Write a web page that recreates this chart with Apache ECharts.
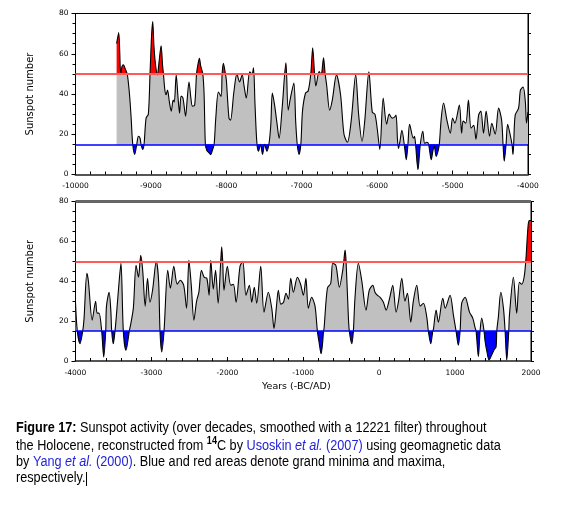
<!DOCTYPE html>
<html><head><meta charset="utf-8">
<script src="https://cdn.jsdelivr.net/npm/echarts@6/dist/echarts.min.js"></script>
<style>html,body{margin:0;padding:0;background:#fff}#c{width:586px;height:527px}</style>
</head><body><div id="c"></div>
<script>
// Top panel: -10000 .. -4000
const topYears = [-9455,-9427,-9400,-9385,-9365,-9340,-9315,-9300,-9280,-9262,-9241,-9215,-9188,-9166,-9144,-9131,-9109,-9091,-9064,-9034,-9010,-8990,-8976,-8960,-8940,-8914,-8895,-8865,-8845,-8834,-8815,-8799,-8780,-8755,-8730,-8705,-8690,-8665,-8640,-8620,-8600,-8575,-8540,-8520,-8495,-8470,-8450,-8420,-8395,-8375,-8357,-8340,-8312,-8295,-8278,-8260,-8235,-8206,-8185,-8162,-8140,-8105,-8069,-8056,-8039,-8012,-8000,-7965,-7945,-7900,-7860,-7825,-7790,-7765,-7735,-7690,-7660,-7640,-7620,-7595,-7573,-7546,-7520,-7493,-7462,-7432,-7410,-7390,-7360,-7330,-7300,-7260,-7210,-7180,-7150,-7105,-7080,-7060,-7036,-7012,-6990,-6950,-6915,-6880,-6855,-6830,-6813,-6769,-6748,-6735,-6711,-6690,-6670,-6630,-6595,-6540,-6485,-6440,-6395,-6345,-6285,-6245,-6200,-6165,-6110,-6065,-6030,-6000,-5965,-5920,-5875,-5840,-5800,-5770,-5750,-5730,-5717,-5700,-5672,-5641,-5614,-5592,-5570,-5520,-5505,-5491,-5459,-5428,-5395,-5370,-5340,-5318,-5283,-5260,-5243,-5217,-5190,-5176,-5150,-5120,-5075,-5030,-5000,-4970,-4910,-4880,-4860,-4825,-4790,-4755,-4720,-4690,-4655,-4625,-4590,-4555,-4510,-4480,-4435,-4390,-4350,-4331,-4315,-4291,-4270,-4235,-4212,-4199,-4190,-4170,-4125,-4100,-4065,-4035,-4020,-4000];
const topValues = [65,70.5,50,53.5,54.5,52.5,50,46,38,28,15,10,15,19,18,15,12.4,15,28,30,52,70,76,64,55,49.5,55,64,54,50,42,39.6,42,36,31.5,37,36,49.5,38,30.5,39,38,29,37,46,38,34,34.5,50,55,57.8,54,50,40,15,12,11,9.9,12,15,28,41,38.8,50,55.3,50,47,28,27,41,50,46,49.5,44,38,51,50,53,35,15.7,11.6,15,10,15,11.6,16,25,40.5,34.5,26,18,33,55.5,32,38,45.5,26,15,10,15,31.5,40.5,41.5,50,63,50,44,51.2,50,50.5,58,50,44.5,32,37,49.5,39.5,20,16,26.5,49.5,29.5,16.5,26.5,51,31,30,23,12.5,38,25,30,28,28.5,29.5,17,13,16,22,15,7.4,15,25,18,19,15,2.4,15,21.5,15.5,16,15,7.4,12,14,9,12,15,28,35.5,27,20.5,28,25.5,34.5,20.5,26.5,25.5,37,23,24.5,17.5,29.5,31.5,20.5,31.5,19,25.5,20,33,27,15,6.6,15,25,19.5,15,10,15,29.5,33,42,43.5,36,25.5,31];

// Bottom panel: -4000 .. 2000
const botYears = [-4000,-3976,-3941,-3905,-3888,-3850,-3830,-3780,-3735,-3715,-3690,-3655,-3628,-3602,-3592,-3557,-3535,-3523,-3502,-3480,-3465,-3424,-3401,-3370,-3335,-3291,-3275,-3238,-3202,-3170,-3141,-3115,-3082,-3051,-3020,-2985,-2936,-2905,-2887,-2865,-2834,-2785,-2750,-2705,-2660,-2620,-2575,-2537,-2506,-2475,-2440,-2405,-2375,-2341,-2305,-2270,-2240,-2218,-2185,-2155,-2121,-2087,-2074,-2061,-2044,-2000,-1955,-1920,-1885,-1833,-1797,-1754,-1710,-1679,-1645,-1613,-1560,-1517,-1460,-1415,-1385,-1355,-1328,-1295,-1260,-1227,-1195,-1165,-1130,-1077,-1035,-998,-965,-933,-890,-845,-814,-790,-765,-745,-733,-726,-682,-638,-611,-570,-524,-480,-466,-449,-436,-405,-393,-361,-340,-318,-274,-230,-173,-130,-84,-55,-25,10,56,91,135,179,223,255,298,340,372,416,450,495,540,583,627,648,680,706,715,750,780,838,870,934,978,1013,1043,1066,1087,1132,1190,1233,1265,1277,1307,1329,1351,1380,1395,1420,1448,1483,1514,1540,1549,1570,1602,1637,1659,1681,1707,1716,1768,1812,1847,1878,1909,1931,1962,1979,2000];
const botValues = [29.5,15,8.7,15,21,44,40,20.5,30,24,24,15,2,15,27.5,34.5,25.5,15,8.7,15,21,40.5,49,15,5.4,15,18,26.5,48,42,53,45.5,27.5,41.5,29.5,35.5,50,40,15,4.6,15,45.5,36.5,47.5,38.5,40.5,38,26.5,50.5,38,20.5,30,34.5,45.5,42,41.5,33,50.5,36,45.5,29,50,57.3,50,35.5,47.5,38,38.5,29.5,47.5,50,33,38,29.5,37,29,47.5,24.5,34.5,26.5,16.3,26.5,35.5,28.5,29.5,34,31,41.5,34.5,42,38.5,33,41.5,26.5,32,27.5,15,9,3.6,9,15,16.3,36.5,39,49,48,37,45.5,50,55.6,50,21.5,15,8.7,15,32,49,40.5,25.5,35.5,38,34.5,33,32,29.5,25.5,31,38,24.5,30,41.5,30,34,19.5,30,38,27.5,29,22,15,8.7,15,16,25.5,19.5,31.5,26.5,33,23,15,7.9,15,29,32,24.5,21.5,16.5,15,2.2,15,21.5,15.5,10,4.6,0.5,3.1,5.6,7.1,15,22,34.5,26.5,15,0.5,15,23,42,24,39.5,38.5,42,50,68,70.5,70.5];

const maxThreshold = 50;   // grand maxima level
const minThreshold = 15;   // grand minima level
const yLabels = [0,20,40,60,80];
const topXRange = [-10000,-4000];
const botXRange = [-4000,2000];

const zip = (xs, ys) => xs.map((x, i) => [x, ys[i]]);
const topData = zip(topYears, topValues);
const botData = zip(botYears, botValues);

const SMOOTH = 0.3;
const tickFont = {fontFamily:'DejaVu Sans', fontSize:7.5, color:'#000'};
function xAxisCfg(gi, range){
  return {type:'value', gridIndex:gi, min:range[0], max:range[1], interval:1000,
    axisLine:{show:true, onZero:false, lineStyle:{color:'#555', width:2}},
    axisTick:{show:true, inside:true, length:4, lineStyle:{color:'#000'}},
    minorTick:{show:true, splitNumber:5, length:3, lineStyle:{color:'#000'}},
    axisLabel:Object.assign({margin:8, formatter:v=>String(v)}, tickFont),
    splitLine:{show:false}};
}
function yAxisLeft(gi){
  return {type:'value', gridIndex:gi, min:yLabels[0], max:yLabels[yLabels.length-1], interval:20,
    name:'Sunspot number', nameLocation:'middle', nameGap:40,
    nameTextStyle:{fontFamily:'DejaVu Sans', fontSize:10, color:'#000'},
    axisLine:{show:true, onZero:false, lineStyle:{color:'#000', width:1}},
    axisTick:{show:true, length:4, lineStyle:{color:'#000'}},
    minorTick:{show:true, splitNumber:4, length:3, lineStyle:{color:'#000'}},
    axisLabel:Object.assign({margin:7}, tickFont),
    splitLine:{show:false}};
}
function yAxisRight(gi, step){
  return {type:'value', gridIndex:gi, position:'right', min:0, max:80, interval:step,
    axisLine:{show:true, onZero:false, lineStyle:{color:'#000', width:1}},
    axisTick:{show:true, length:3, lineStyle:{color:'#000'}},
    axisLabel:{show:false}, splitLine:{show:false}};
}
function areaSeries(xi, yi, data){
  return {type:'line', xAxisIndex:xi, yAxisIndex:yi, data:data, symbol:'none', smooth:SMOOTH,
    silent:true, z:1, lineStyle:{width:0, opacity:0}, areaStyle:{origin:minThreshold, opacity:1, color:'#c0c0c0'}};
}
function lineSeries(xi, yi, data, extraTop){
  const ml = [
    {yAxis:maxThreshold, lineStyle:{color:'#ff5a5a', width:2, type:'solid'}},
    {yAxis:minThreshold, lineStyle:{color:'#0000ff', width:1.5, type:'solid'}}
  ];
  if (extraTop) ml.push({yAxis:80, lineStyle:{color:'#666', width:3, type:'solid'}});
  return {type:'line', xAxisIndex:xi, yAxisIndex:yi, data:data, symbol:'none', smooth:SMOOTH,
    silent:true, z:3, lineStyle:{color:'#000', width:1.1},
    markLine:{silent:true, symbol:'none', label:{show:false}, animation:false, data:ml}};
}

const F = 'Liberation Sans';
const rich = {
  b:{fontFamily:F, fontSize:14, fontWeight:'bold', fill:'#000'},
  l:{fontFamily:F, fontSize:14, fill:'#2222dd'},
  li:{fontFamily:F, fontSize:14, fontStyle:'italic', fill:'#2222dd'},
  sup:{fontFamily:F, fontSize:10, fontWeight:'bold', fill:'#000', verticalAlign:'top', lineHeight:20}
};
function capLine(txt, y){
  return {type:'text', left:16, top:y, scaleX:0.905,
    style:{text:txt, rich:rich, fontFamily:F, fontSize:14, fill:'#000'}};
}

const chart = echarts.init(document.getElementById('c'), null, {renderer:'canvas'});
chart.setOption({
  animation:false,
  backgroundColor:'#fff',
  grid:[
    {left:75.5, right:58, top:13.5, height:161, show:true, borderColor:'#000', borderWidth:1},
    {left:75.5, right:55, top:201.5, height:159.5, show:true, borderColor:'#000', borderWidth:1}
  ],
  xAxis:[xAxisCfg(0, topXRange), xAxisCfg(1, botXRange)],
  yAxis:[yAxisLeft(0), yAxisRight(0,10), yAxisLeft(1), yAxisRight(1,5)],
  series:[
    areaSeries(0,0,topData), lineSeries(0,0,topData,false),
    areaSeries(1,2,botData), lineSeries(1,2,botData,true)
  ],
  graphic:[
    {type:'text', left:262, top:382, style:{text:'Years (-BC/AD)', fontFamily:'DejaVu Sans', fontSize:9.5, fill:'#000'}},
    capLine('{b|Figure 17:} Sunspot activity (over decades, smoothed with a 12221 filter) throughout', 421),
    capLine('the Holocene, reconstructed from {sup|14}C by {l|Usoskin }{li|et al.}{l| (2007)} using geomagnetic data', 436),
    capLine('by {l|Yang }{li|et al.}{l| (2000)}. Blue and red areas denote grand minima and maxima,', 455),
    capLine('respectively.', 471),
    {type:'line', shape:{x1:86.5, y1:472, x2:86.5, y2:486}, style:{stroke:'#000', lineWidth:1}}
  ]
});

// Threshold colouring of the fill: vertical gradient placed with the axis scale
function bandGradient(gi){
  const y50 = chart.convertToPixel({gridIndex:gi}, [0, maxThreshold])[1];
  const y15 = chart.convertToPixel({gridIndex:gi}, [0, minThreshold])[1];
  return new echarts.graphic.LinearGradient(0, y50, 0, y15, [
    {offset:0, color:'#ff0000'}, {offset:0, color:'#c0c0c0'},
    {offset:1, color:'#c0c0c0'}, {offset:1, color:'#0000ff'}
  ], true);
}
chart.setOption({series:[
  {areaStyle:{color:bandGradient(0)}}, {},
  {areaStyle:{color:bandGradient(1)}}, {}
]});
</script></body></html>
